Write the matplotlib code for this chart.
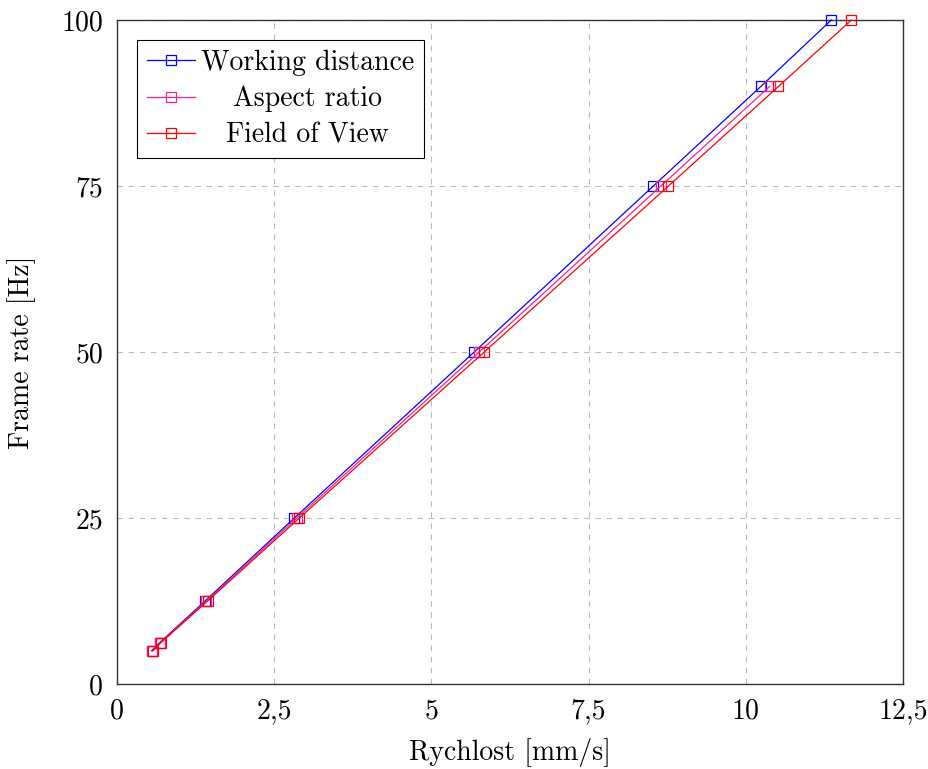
import numpy as np
import matplotlib.pyplot as plt

# data
fps = [5, 6.25, 12.5, 25, 50, 75, 90, 100]
wd = [0.55, 0.68, 1.40, 2.82, 5.68, 8.53, 10.24, 11.36]
ar = [0.56, 0.69, 1.42, 2.86, 5.76, 8.65, 10.38]
fov = [0.57, 0.70, 1.44, 2.90, 5.84, 8.77, 10.52, 11.68]

xticks = [0, 2.5, 5, 7.5, 10, 12.5]
xlabels = ["0", "2,5", "5", "7,5", "10", "12,5"]
yticks = [0, 25, 50, 75, 100]

plt.rcParams['font.family'] = ['cmr10', 'DejaVu Serif']
plt.rcParams['axes.formatter.use_mathtext'] = True

fs = 20

fig = plt.figure(figsize=(9.29, 7.69), dpi=100)
ax = fig.add_axes([0.126, 0.1105, 0.846, 0.8635])

kw = dict(marker='s', markerfacecolor='none', markersize=7.5, markeredgewidth=0.9,
          linewidth=0.9, clip_on=False, zorder=3)
ax.plot(wd, fps, color='#0000ff', label='Working distance', **kw)
ax.plot(ar, fps[:len(ar)], color='#f0209a', label='Aspect ratio', **kw)
ax.plot(fov, fps, color='#ff0000', label='Field of View', **kw)

ax.set_xlim(0, 12.5)
ax.set_ylim(0, 100)
ax.set_xticks(xticks)
ax.set_xticklabels(xlabels)
ax.set_yticks(yticks)
ax.set_yticklabels([str(t) for t in yticks])
ax.tick_params(direction='in', labelsize=fs, length=0, pad=10)
ax.grid(True, color='#bbbbbb', linestyle=(0, (5, 5)), linewidth=0.8)
for s in ax.spines.values():
    s.set_linewidth(1.0)
    s.set_color('#333333')

ax.set_xlabel("Rychlost [mm/s]", fontsize=fs, labelpad=10)
ax.set_ylabel("Frame rate [Hz]", fontsize=fs, labelpad=18)

leg = ax.legend(loc='upper left', fontsize=fs, fancybox=False, edgecolor='black',
                framealpha=1, borderaxespad=0.72, handlelength=1.75, handletextpad=0.2,
                labelspacing=0.35, borderpad=0.35)
leg.get_frame().set_linewidth(0.8)
leg.set_zorder(5)

# center the legend labels like pgfplots does
fig.canvas.draw()
r = fig.canvas.get_renderer()
widths = [t.get_window_extent(r).width for t in leg.get_texts()]
wmax = max(widths)
for t, w in zip(leg.get_texts(), widths):
    t.set_x((wmax - w) / 2)

fig.savefig('out.png', dpi=100)
